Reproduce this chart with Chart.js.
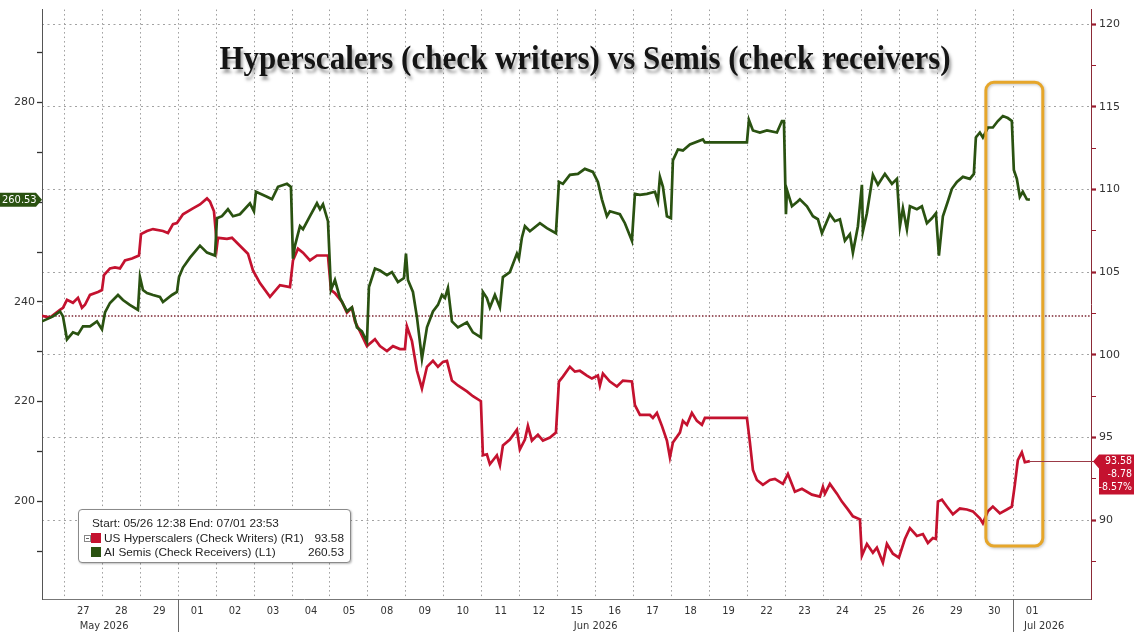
<!DOCTYPE html>
<html>
<head>
<meta charset="utf-8">
<script src="https://cdn.jsdelivr.net/npm/chart.js@4.4.1/dist/chart.umd.min.js"></script>
<style>
html,body{margin:0;padding:0;background:#fff;}
#wrap{position:relative;width:1134px;height:632px;overflow:hidden;background:#fff;}
#c{position:absolute;left:0;top:0;}
#title{position:absolute;left:0;width:1170px;top:40px;text-align:center;white-space:nowrap;
  font-family:'Liberation Serif','DejaVu Serif',serif;font-weight:bold;font-size:31px;line-height:36px;color:#151515;
  text-shadow:2px 3px 3px rgba(0,0,0,0.38);transform:scaleY(1.12);transform-origin:50% 50%;}
#legend{position:absolute;left:78px;top:509px;width:271px;height:52px;border:1px solid #8a8a8a;border-radius:4px;
  background:#fff;box-shadow:1px 1px 2px rgba(0,0,0,0.25);font-family:'Liberation Sans','DejaVu Sans',sans-serif;font-size:11.8px;color:#1e1e1e;}
#legend .row{position:absolute;left:0;width:100%;height:14px;line-height:14px;white-space:nowrap;}
#legend .sw{position:absolute;left:12px;top:2px;width:10px;height:10px;}
#legend .nm{position:absolute;left:25px;top:0;}
#legend .val{position:absolute;right:6px;top:0;}
#legend .ic{position:absolute;left:5px;top:4px;width:5px;height:5px;border:1px solid #888;font-size:0;}
#legend .ic:after{content:'';position:absolute;left:1px;top:2px;width:3px;height:1px;background:#666;}
</style>
</head>
<body>
<div id="wrap">
  <canvas id="c" width="1134" height="632"></canvas>
  <div id="title">Hyperscalers (check writers) vs Semis (check receivers)</div>
  <div id="legend"></div>
</div>
<script>
// ---------------- DATA ----------------
// x positions are in trading-day units (0 = open of 27 May, each integer = next session boundary)
const dayLabels = ['27','28','29','01','02','03','04','05','08','09','10','11','12','15','16','17','18','19','22','23','24','25','26','29','30','01'];
const monthLabels = ['May 2026','Jun 2026','Jul 2026'];
const monthStartDay = [null, 3, 25]; // index of first session of each month (null = before axis start)

const leftTicks = [190,200,210,220,230,240,250,260,270,280,290];
const rightTicks = [87.5,90,92.5,95,97.5,100,102.5,105,107.5,110,112.5,115,117.5,120];

const semisName = 'AI Semis (Check Receivers) (L1)';
const hyperName = 'US Hyperscalers (Check Writers) (R1)';
const rangeText = 'Start: 05/26 12:38 End: 07/01 23:53';

const semisTime = [-0.587,-0.298,-0.113,-0.034,0.071,0.229,0.361,0.493,0.677,0.861,0.993,1.073,1.204,1.415,1.546,1.725,1.941,1.994,2.073,2.179,2.337,2.521,2.600,2.837,2.969,3.022,3.127,3.312,3.575,3.760,3.970,4.023,4.154,4.312,4.444,4.628,4.892,4.997,5.050,5.340,5.472,5.630,5.867,5.972,6.025,6.078,6.210,6.289,6.473,6.657,6.737,6.816,6.947,7.026,7.131,7.263,7.447,7.579,7.711,7.842,7.974,8.027,8.185,8.317,8.501,8.632,8.791,8.949,9.002,9.054,9.186,9.292,9.423,9.555,9.713,9.845,9.950,10.029,10.108,10.213,10.371,10.608,10.766,10.976,11.029,11.134,11.213,11.345,11.477,11.556,11.740,11.925,11.977,12.056,12.136,12.267,12.531,12.715,12.953,13.032,13.137,13.321,13.532,13.716,13.927,14.059,14.164,14.296,14.375,14.638,14.770,14.955,15.034,15.166,15.350,15.561,15.640,15.693,15.772,15.877,15.983,16.035,16.167,16.298,16.483,16.825,16.878,17.985,18.038,18.143,18.327,18.512,18.775,18.907,18.960,19.013,19.039,19.171,19.329,19.381,19.566,19.724,19.855,19.961,20.171,20.303,20.435,20.566,20.698,20.777,20.909,21.014,21.041,21.146,21.304,21.436,21.620,21.805,21.937,22.016,22.095,22.200,22.279,22.463,22.595,22.727,22.858,22.964,23.043,23.148,23.280,23.385,23.517,23.675,23.859,23.964,24.017,24.122,24.201,24.333,24.464,24.596,24.728,24.859,24.964,25.017,25.096,25.175,25.254,25.360,25.439];
const semisValues = [236.1,237.1,238.1,237.1,232.5,233.9,233.5,235.1,235.1,236.1,234.5,237.9,239.8,241.4,240.4,239.4,238.4,245.0,242.4,241.8,241.4,241.0,240.0,241.4,242.0,245.0,246.9,248.9,251.3,249.9,249.3,256.8,257.2,258.6,257.2,257.6,259.8,258.2,262.1,261.1,260.6,263.1,263.7,263.1,248.7,251.3,255.2,254.6,257.2,259.8,258.6,259.6,256.2,242.4,244.4,240.8,238.1,238.9,234.9,234.1,232.0,243.0,246.7,246.3,245.4,246.0,244.0,244.8,249.7,244.4,242.0,236.9,228.6,234.9,238.1,239.4,241.4,240.8,242.8,236.1,234.9,235.9,233.9,232.9,242.0,240.8,238.9,241.4,238.9,245.0,246.0,249.7,248.7,252.9,255.2,254.2,255.8,254.8,253.8,264.1,263.7,265.5,265.7,266.7,266.1,264.1,260.6,257.2,258.2,257.6,255.8,252.3,261.7,261.5,261.7,262.1,260.2,265.1,263.1,257.2,256.8,268.4,270.6,270.4,271.6,272.6,272.0,272.0,276.5,274.4,274.0,274.4,274.0,276.3,276.3,257.6,262.5,259.2,260.2,260.6,259.2,257.2,256.6,253.8,257.6,256.2,256.6,252.3,253.6,249.9,255.2,263.5,254.2,257.8,265.5,263.5,265.7,263.7,264.7,255.2,258.8,254.6,259.2,258.6,259.2,255.8,256.8,257.8,249.3,257.2,260.2,262.7,264.1,265.1,264.7,265.7,273.0,274.0,273.0,275.0,275.0,276.3,277.3,276.9,276.3,266.5,264.7,261.1,262.1,260.6,260.53];

const hyperTime = [-0.587,-0.377,-0.113,-0.034,0.071,0.229,0.361,0.466,0.545,0.677,0.888,0.993,1.046,1.204,1.336,1.467,1.599,1.784,1.968,2.021,2.179,2.337,2.600,2.732,2.864,2.969,3.127,3.390,3.575,3.760,3.838,3.944,4.023,4.049,4.286,4.418,4.628,4.839,4.971,5.155,5.419,5.682,5.946,6.025,6.157,6.289,6.473,6.657,6.947,7.026,7.131,7.316,7.447,7.579,7.658,7.790,7.974,8.185,8.317,8.501,8.659,8.844,8.975,9.028,9.160,9.292,9.423,9.555,9.713,9.845,9.977,10.082,10.213,10.371,10.608,10.766,10.976,11.029,11.134,11.213,11.397,11.477,11.556,11.740,11.925,12.003,12.136,12.215,12.320,12.479,12.610,12.795,12.953,13.032,13.137,13.321,13.453,13.585,13.769,13.901,14.059,14.112,14.191,14.375,14.560,14.718,14.955,15.034,15.166,15.429,15.508,15.614,15.745,15.877,15.956,16.035,16.219,16.298,16.404,16.535,16.667,16.799,16.878,17.985,18.064,18.143,18.248,18.406,18.591,18.722,18.933,19.065,19.249,19.434,19.697,19.908,19.987,20.040,20.171,20.356,20.487,20.645,20.777,20.961,21.014,21.146,21.304,21.409,21.567,21.673,21.831,21.989,22.147,22.279,22.463,22.621,22.753,22.884,22.964,23.017,23.122,23.254,23.412,23.596,23.780,23.938,24.122,24.201,24.333,24.464,24.649,24.833,24.964,25.043,25.122,25.228,25.307,25.439];
const hyperValues = [102.36,102.26,102.73,102.85,103.33,103.15,103.45,102.85,103.03,103.63,103.80,103.92,104.82,105.23,105.29,105.23,105.71,105.83,106.01,107.31,107.49,107.61,107.49,107.37,107.91,107.97,108.50,108.86,109.10,109.46,109.28,108.68,106.60,107.08,107.02,107.08,106.60,106.12,105.11,104.34,103.51,104.22,104.10,105.71,106.42,106.18,105.71,106.01,106.01,103.92,103.74,103.21,102.55,102.85,102.02,101.42,100.53,100.95,100.53,100.23,100.53,100.35,100.35,101.72,100.83,99.04,97.97,99.28,99.64,99.28,99.58,99.64,98.45,98.15,97.79,97.50,97.20,93.93,93.99,93.39,93.93,93.33,94.52,94.88,95.47,94.28,94.88,95.71,94.82,95.18,94.82,95.00,95.30,98.39,98.69,99.28,98.99,99.04,98.75,98.57,98.75,98.15,98.87,98.39,98.09,98.45,98.39,96.96,96.37,96.37,96.19,96.49,95.71,94.82,93.81,94.70,95.30,96.01,95.77,96.49,96.01,95.77,96.19,96.19,94.70,93.04,92.44,92.14,92.44,92.50,92.20,92.80,91.73,91.90,91.55,91.43,92.02,91.61,92.20,91.61,91.13,90.66,90.24,90.06,87.86,88.57,88.04,88.34,87.44,88.57,87.98,87.74,88.87,89.52,89.05,89.17,88.63,88.93,88.87,91.13,91.25,90.83,90.36,90.71,90.65,90.54,90.12,89.82,90.54,90.83,90.42,90.65,90.83,92.14,93.63,94.11,93.51,93.58];

const hyperChange = '-8.78';
const hyperChangePct = '-8.57%';

// highlight box (in axis units)
const boxX = [24.28, 25.78];
const boxY = [88.45, 116.48]; // right axis units

// ---------------- CONSTRUCTION ----------------
const X_MIN = -0.587, X_MAX = 27.05;
const L_MIN = 180.4, L_MAX = 298.66;
const R_MIN = 85.24, R_MAX = 120.88;

const RED = '#c4122f', GREEN = '#2a5211';

function pts(t, v){ const n = Math.min(t.length, v.length); const a=[]; for(let i=0;i<n;i++) a.push({x:t[i], y:v[i]}); return a; }
const hyperPts = pts(hyperTime, hyperValues);
const semisPts = pts(semisTime, semisValues);
const hyperLast = hyperPts[hyperPts.length-1];
const semisLast = semisPts[semisPts.length-1];
const hyperStart = hyperValues[0];

// legend
(function(){
  const lg = document.getElementById('legend');
  lg.innerHTML =
    '<div class="row" style="top:6px;"><span style="position:absolute;left:13px;">'+rangeText+'</span></div>'+
    '<div class="row" style="top:21px;"><span class="ic"></span><span class="sw" style="background:'+RED+'"></span><span class="nm">'+hyperName+'</span><span class="val">'+hyperLast.y.toFixed(2)+'</span></div>'+
    '<div class="row" style="top:35px;"><span class="sw" style="background:'+GREEN+'"></span><span class="nm">'+semisName+'</span><span class="val">'+semisLast.y.toFixed(2)+'</span></div>';
})();

const xTickVals = [];
for (let i=0;i<dayLabels.length;i++){ xTickVals.push(i); xTickVals.push(i+0.5); }

const AXIS_FONT = {family:"'DejaVu Sans Condensed','Liberation Sans Narrow','DejaVu Sans',sans-serif", size:11};
const Y_FONT = {family:"'DejaVu Sans',sans-serif", size:11};
const TAG_FONT = "10.5px 'DejaVu Sans Condensed','Liberation Sans Narrow','DejaVu Sans',sans-serif";

const overlay = {
  id:'overlay',
  afterDatasetsDraw(chart){
    const {ctx, scales} = chart;
    const x = scales.x, yR = scales.yR;
    const x1 = x.getPixelForValue(boxX[0]), x2 = x.getPixelForValue(boxX[1]);
    const y1 = yR.getPixelForValue(boxY[1]), y2 = yR.getPixelForValue(boxY[0]);
    ctx.save();
    ctx.shadowColor = 'rgba(0,0,0,0.25)'; ctx.shadowBlur = 3; ctx.shadowOffsetX = 1; ctx.shadowOffsetY = 1;
    ctx.strokeStyle = '#e6a62a'; ctx.lineWidth = 3;
    ctx.beginPath();
    if (ctx.roundRect) ctx.roundRect(x1, y1, x2-x1, y2-y1, 8); else ctx.rect(x1,y1,x2-x1,y2-y1);
    ctx.stroke();
    ctx.restore();
  },
  afterDraw(chart){
    const {ctx, chartArea:a, scales} = chart;
    const x = scales.x, yL = scales.yL, yR = scales.yR;
    ctx.save();
    // month separators and labels
    ctx.strokeStyle = '#6a6a6a'; ctx.lineWidth = 1;
    const bounds = [X_MIN];
    for (let m=1;m<monthStartDay.length;m++) bounds.push(monthStartDay[m]);
    bounds.push(X_MAX);
    for (let m=1;m<monthStartDay.length;m++){
      const px = Math.round(x.getPixelForValue(monthStartDay[m]))+0.5;
      ctx.beginPath(); ctx.moveTo(px, a.bottom); ctx.lineTo(px, chart.height); ctx.stroke();
    }
    ctx.fillStyle = '#333';
    ctx.font = AXIS_FONT.size+'px '+AXIS_FONT.family;
    ctx.textAlign = 'center'; ctx.textBaseline = 'middle';
    for (let m=0;m<monthLabels.length;m++){
      const c = (bounds[m]+bounds[m+1])/2;
      ctx.fillText(monthLabels[m], x.getPixelForValue(c) + (m===0?-6:(m===monthLabels.length-1?-8:0)), 626);
    }
    // right tag (hyperscalers)
    const ry = Math.round(yR.getPixelForValue(hyperLast.y))+0.5;
    const rx = x.getPixelForValue(hyperLast.x);
    ctx.strokeStyle = '#9b3a46'; ctx.lineWidth = 1;
    ctx.beginPath(); ctx.moveTo(rx, ry); ctx.lineTo(a.right+3, ry); ctx.stroke();
    const bx = a.right + 8, by = ry - 7;
    ctx.fillStyle = RED;
    ctx.beginPath();
    ctx.moveTo(a.right+2, ry); ctx.lineTo(bx, by); ctx.lineTo(chart.width, by); ctx.lineTo(chart.width, by+40);
    ctx.lineTo(bx, by+40); ctx.lineTo(bx, ry+7); ctx.closePath(); ctx.fill();
    ctx.fillStyle = '#fff';
    ctx.font = TAG_FONT;
    ctx.textAlign = 'right'; ctx.textBaseline = 'middle';
    ctx.fillText(hyperLast.y.toFixed(2), chart.width-2, by+7);
    ctx.fillText(hyperChange, chart.width-2, by+20);
    ctx.fillText(hyperChangePct, chart.width-2, by+33);
    // left tag (semis)
    const ly = yL.getPixelForValue(semisLast.y);
    ctx.fillStyle = GREEN;
    ctx.beginPath();
    ctx.moveTo(0, ly-7); ctx.lineTo(a.left-6, ly-7); ctx.lineTo(a.left, ly); ctx.lineTo(a.left-6, ly+7); ctx.lineTo(0, ly+7); ctx.closePath(); ctx.fill();
    ctx.fillStyle = '#fff';
    ctx.textAlign = 'left';
    ctx.font = "11px 'DejaVu Sans Condensed','DejaVu Sans',sans-serif";
    ctx.fillText(semisLast.y.toFixed(2), 2, ly+0.5);
    ctx.restore();
  }
};

new Chart(document.getElementById('c'), {
  type:'line',
  data:{ datasets:[
    { label:hyperName, data:hyperPts, yAxisID:'yR', borderColor:RED, borderWidth:2.7, pointRadius:0, tension:0, order:2 },
    { label:semisName, data:semisPts, yAxisID:'yL', borderColor:GREEN, borderWidth:2.7, pointRadius:0, tension:0, order:1 },
    { label:'start', data:[{x:X_MIN,y:hyperStart},{x:X_MAX,y:hyperStart}], yAxisID:'yR', borderColor:'#7b2430', borderWidth:1.5, borderDash:[1.5,1.8], pointRadius:0, order:3 }
  ]},
  options:{
    responsive:false, animation:false, devicePixelRatio:1,
    layout:{padding:0},
    plugins:{ legend:{display:false}, tooltip:{enabled:false}, title:{display:false} },
    scales:{
      x:{ type:'linear', min:X_MIN, max:X_MAX,
        afterBuildTicks(s){ s.ticks = xTickVals.map(v=>({value:v})); },
        afterFit(s){ s.height = 33; },
        ticks:{ autoSkip:false, maxRotation:0, padding:6, color:'#333', font:AXIS_FONT,
          callback(v){ return Number.isInteger(v) ? '' : dayLabels[Math.floor(v)]; } },
        grid:{ drawTicks:false, lineWidth:1,
          color(c){ return (c.tick && Number.isInteger(c.tick.value)) ? '#9c9c9c' : 'rgba(0,0,0,0)'; } },
        border:{ display:true, color:'#777', width:1, dash:[1.5,3] }
      },
      yL:{ type:'linear', position:'left', min:L_MIN, max:L_MAX,
        afterBuildTicks(s){ s.ticks = leftTicks.map(v=>({value:v})); },
        afterFit(s){ s.width = 42; },
        ticks:{ padding:2, color:'#333', font:Y_FONT, callback(v){ return (v%20===0) ? String(v) : ''; } },
        grid:{ drawOnChartArea:false, drawTicks:true, tickLength:5, tickColor:'#333', tickWidth:1.3, color:'#333' },
        border:{ display:true, color:'#555', width:1 }
      },
      yR:{ type:'linear', position:'right', min:R_MIN, max:R_MAX,
        afterBuildTicks(s){ s.ticks = rightTicks.map(v=>({value:v})); },
        afterFit(s){ s.width = 43; },
        ticks:{ padding:3, color:'#333', font:Y_FONT, callback(v){ return (v%5===0) ? String(v) : ''; } },
        grid:{ drawOnChartArea:true, drawTicks:true, tickLength:5, lineWidth:1,
          tickColor:'#9b1b2e',
          tickWidth(c){ return (c.tick && c.tick.value%5===0) ? 2.2 : 1; },
          color(c){ return (c.tick && c.tick.value%5===0) ? '#a2a2a2' : 'rgba(0,0,0,0)'; } },
        border:{ display:true, color:'#8b2a36', width:1, dash:[2,3.5] }
      }
    }
  },
  plugins:[overlay]
});
</script>
</body>
</html>
